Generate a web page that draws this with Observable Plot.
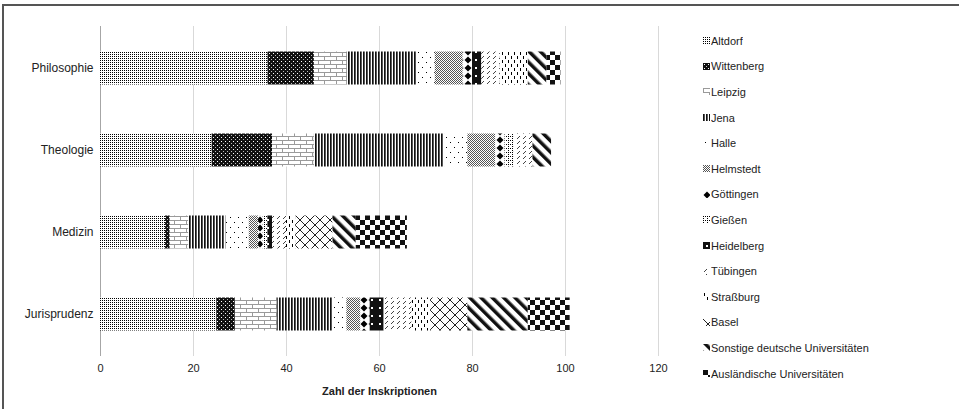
<!DOCTYPE html>
<html><head><meta charset="utf-8">
<script src="https://cdn.jsdelivr.net/npm/d3@7"></script>
<script src="https://cdn.jsdelivr.net/npm/@observablehq/plot@0.6"></script>
<style>
html,body{margin:0;padding:0;background:#fff;overflow:hidden;width:959px;height:409px;}
#frame{position:relative;width:959px;height:409px;overflow:hidden;font-family:"Liberation Sans",Arial,sans-serif;}
#bordertop{position:absolute;left:2px;top:4px;width:957px;height:2px;background:#555;}
#borderleft{position:absolute;left:2px;top:4px;width:2px;height:405px;background:#555;}
#chart{position:absolute;left:0;top:0;}
#legend{position:absolute;left:703px;top:28px;}
#chart g[aria-label="x-axis label"] text{font-weight:bold;}
.lg-swatch{height:25.6px !important;padding:0 !important;margin:0 !important;font-size:11px;color:#222;font-family:"Liberation Sans",Arial,sans-serif;}
.lg-swatch > svg{margin-right:1px !important;}
</style>
</head><body>
<div id="frame">
  <div id="bordertop"></div><div id="borderleft"></div>
  <div id="chart"></div>
  <div id="legend"></div>
</div>
<script>
const categories = ["Philosophie", "Theologie", "Medizin", "Jurisprudenz"];
const universities = ["Altdorf", "Wittenberg", "Leipzig", "Jena", "Halle", "Helmstedt", "Göttingen", "Gießen", "Heidelberg", "Tübingen", "Straßburg", "Basel", "Sonstige deutsche Universitäten", "Ausländische Universitäten"];
const philosophie  = [36, 10, 7, 15, 4, 6, 2, 0, 2, 4, 6, 0, 4, 3];
const theologie    = [24, 13, 9, 28, 5, 6, 2, 2, 0, 4, 0, 0, 4, 0];
const medizin      = [14, 1, 4, 8, 5, 2, 1, 1, 1, 3, 2, 8, 5, 11];
const jurisprudenz = [25, 4, 9, 12, 3, 3, 2, 0, 3, 6, 4, 8, 13, 9];
const xTicks = [0, 20, 40, 60, 80, 100, 120];
const xLabel = "Zahl der Inskriptionen";

// pattern definitions (hidden svg inside the frame)
const defsSvg = d3.select("#frame").append("svg").attr("width", 0).attr("height", 0)
  .style("position", "absolute").style("left", "0").style("top", "0");
const defs = defsSvg.append("defs");
function pat(id, w, h, build, transform) {
  const p = defs.append("pattern").attr("id", id).attr("patternUnits", "userSpaceOnUse")
    .attr("width", w).attr("height", h);
  if (transform) p.attr("patternTransform", transform);
  build(p);
}
const rect = (p, x, y, w, h, f) => p.append("rect").attr("x", x).attr("y", y).attr("width", w).attr("height", h).attr("fill", f);
// Altdorf: fine dots
pat("p0", 2, 2, p => { rect(p,0,0,2,2,"#fff"); rect(p,0,0,1,1,"#000"); });
// Wittenberg: black with white dots
pat("p1", 4, 4, p => { rect(p,0,0,4,4,"#111"); rect(p,1,1,1,1,"#fff"); rect(p,3,3,1,1,"#bbb"); });
// Leipzig: bricks
pat("p2", 12, 8, p => { rect(p,0,0,12,8,"#fff");
  p.append("path").attr("d","M0,0.5H12M0,4.5H12M0.5,0V4.5M6.5,4.5V8").attr("stroke","#9a9a9a").attr("stroke-width",1).attr("fill","none"); });
// Jena: vertical lines
pat("p3", 3, 3, p => { rect(p,0,0,3,3,"#fff"); rect(p,0,0,1.7,3,"#111"); });
// Halle: sparse dots
pat("p4", 8, 10, p => { rect(p,0,0,8,10,"#fff"); rect(p,2,2,1,1,"#000"); rect(p,6,7,1,1,"#000"); });
// Helmstedt: fine grey checker
pat("p5", 2, 2, p => { rect(p,0,0,2,2,"#fff"); rect(p,0,0,1,1,"#555"); rect(p,1,1,1,1,"#555"); });
// Göttingen: diamonds
pat("p6", 8, 8, p => { rect(p,0,0,8,8,"#fff"); p.append("path").attr("d","M4,0.5L7.5,4L4,7.5L0.5,4Z").attr("fill","#000"); });
// Gießen: dotted grid
pat("p7", 4, 4, p => { rect(p,0,0,4,4,"#fff"); rect(p,0,0,1,1,"#000"); rect(p,2,0,1,1,"#000"); rect(p,0,2,1,1,"#000"); });
// Heidelberg: black with white dots
pat("p8", 8, 8, p => { rect(p,0,0,8,8,"#111"); rect(p,3,3,2,2,"#fff"); });
// Tübingen: small diagonal dashes
pat("p9", 6, 5, p => { rect(p,0,0,6,5,"#fff"); p.append("path").attr("d","M1,4L4,1").attr("stroke","#444").attr("stroke-width",1); });
// Straßburg: dashed vertical
pat("p10", 6, 8, p => { rect(p,0,0,6,8,"#fff"); rect(p,1,0,1,3,"#000"); rect(p,4,4,1,3,"#000"); });
// Basel: diagonal cross
pat("p11", 10, 10, p => { rect(p,0,0,10,10,"#fff"); p.append("path").attr("d","M0,0L10,10M10,0L0,10").attr("stroke","#222").attr("stroke-width",1); });
// Sonstige: wide diagonal stripes
pat("p12", 8, 8, p => { rect(p,0,0,8,8,"#fff"); rect(p,0,0,3.5,8,"#111"); }, "rotate(-45)");
// Ausländische: checkerboard
pat("p13", 10, 10, p => { rect(p,0,0,10,10,"#fff"); rect(p,0,0,5,5,"#111"); rect(p,5,5,5,5,"#111"); });

const patterns = universities.map((_, i) => `url(#p${i})`);
const byCat = [philosophie, theologie, medizin, jurisprudenz];
const data = [];
categories.forEach((c, ci) => universities.forEach((u, ui) => {
  const v = byCat[ci][ui];
  if (v > 0) data.push({category: c, university: u, value: v});
}));

const chart = Plot.plot({
  width: 690, height: 409,
  marginLeft: 100, marginRight: 32, marginTop: 26, marginBottom: 53,
  style: {fontFamily: "Liberation Sans, Arial, sans-serif", fontSize: "11px", color: "#222", background: "transparent"},
  x: {domain: [0, 120], ticks: xTicks},
  y: {domain: categories, padding: 0},
  color: {type: "ordinal", domain: universities, range: patterns},
  marks: [
    Plot.gridX(xTicks.filter(d => d > 0), {stroke: "#d9d9d9", strokeOpacity: 1}),
    Plot.ruleX([0], {stroke: "#a6a6a6"}),
    Plot.barX(data, {x: "value", y: "category", fill: "university", insetTop: 24.5, insetBottom: 24.5}),
    Plot.axisX({ticks: xTicks, tickSize: 0, tickPadding: 8, label: xLabel, labelAnchor: "center", labelOffset: 38, labelArrow: "none"}),
    Plot.axisY({tickSize: 0, tickPadding: 7, fontSize: 12, label: null})
  ]
});
document.getElementById("chart").appendChild(chart);
const lg = chart.legend("color", {columns: 1, swatchSize: 7, className: "lg"});
document.getElementById("legend").appendChild(lg);
</script>
</body></html>
